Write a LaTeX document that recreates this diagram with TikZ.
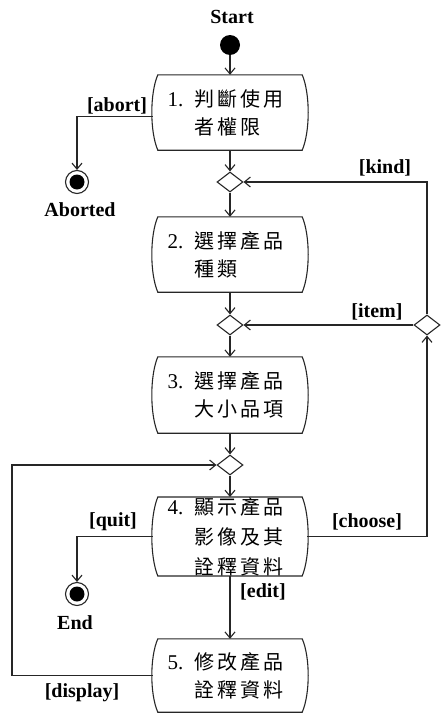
\documentclass[tikz,border=0pt]{standalone}
\usepackage{fontspec}
\setmainfont{Liberation Serif}
\newfontfamily\cjkfont[LetterSpace=15]{Noto Sans CJK TC}
\usetikzlibrary{arrows.meta,shapes.geometric,calc}

% step number in front of an activity text, and the matching indent
\newcommand\actnum[1]{\makebox[27pt][l]{\rmfamily\fontsize{21}{21}\selectfont #1}}
\newcommand\actind{\hspace*{27pt}}

\begin{document}
\begin{tikzpicture}[x=1pt,y=-1pt,
  ln/.style={line width=1.1pt, draw=black!85},
  flow/.style={ln, -{Straight Barb[length=6pt,width=10pt,line width=1.1pt]}},
  action/.style={rectangle, minimum width=154pt, minimum height=75pt,
    inner sep=0pt, text width=125pt, align=left,
    font=\cjkfont\fontsize{20}{28}\selectfont},
  merge/.style={diamond, ln, minimum width=26pt, minimum height=20pt,
    inner sep=0pt, aspect=1.3},
  initial/.style={circle, fill=black, minimum size=20pt, inner sep=0pt},
  final/.style={circle, ln, minimum size=23pt, inner sep=0pt,
    path picture={\fill[black] (path picture bounding box.center) circle (7.5pt);}},
  guard/.style={font=\bfseries\fontsize{20}{20}\selectfont, inner sep=0pt}]
\useasboundingbox (0,0) rectangle (440,715);

% states
\node[guard] (startlbl) at (232,17) {Start};
\node[initial] (start) at (230,45) {};
\node[action] (n1) at (230,112.5) {\actnum{1.}判斷使用\\\actind 者權限};
\node[merge] (d1) at (230,182) {};
\node[action] (n2) at (230,254.5) {\actnum{2.}選擇產品\\\actind 種類};
\node[merge] (d2) at (230,325) {};
\node[merge] (ditem) at (427,325) {};
\node[action, minimum height=76pt] (n3) at (230,395) {\actnum{3.}選擇產品\\\actind 大小品項};
\node[merge] (d3) at (230,465) {};
\node[action, minimum height=77pt,
  font=\cjkfont\fontsize{20}{30}\selectfont] (n4) at (230,536.5)
  {\actnum{4.}顯示產品\\\actind 影像及其\\\actind 詮釋資料};
\node[action, minimum height=73pt] (n5) at (230,675.5) {\actnum{5.}修改產品\\\actind 詮釋資料};

% activity outlines: straight top and bottom, sides bulging outwards
\foreach \a in {n1,n2,n3,n4,n5}{
  \draw[ln] ($(\a.north west)+(5,0)$) -- ($(\a.north east)+(-5,0)$)
    .. controls ($(\a.north east)!0.25!(\a.south east)+(3,0)$)
       and ($(\a.north east)!0.75!(\a.south east)+(3,0)$)
    .. ($(\a.south east)+(-5,0)$) -- ($(\a.south west)+(5,0)$)
    .. controls ($(\a.north west)!0.75!(\a.south west)+(-3,0)$)
       and ($(\a.north west)!0.25!(\a.south west)+(-3,0)$)
    .. cycle;
}

\node[final] (aborted) at (77,182) {};
\node[guard] (abortedlbl) at (80,210) {Aborted};
\node[final] (endstate) at (77,594) {};
\node[guard] (endlbl) at (75,623) {End};

\coordinate (displayturn) at (12,465);

% transitions
\draw[flow] (start) -- (n1);
\draw[flow] ([yshift=-4pt]n1.west) -| (aborted);
\draw[flow] (n1) -- (d1);
\draw[flow] (d1) -- (n2);
\draw[flow] (n2) -- (d2);
\draw[flow] (d2) -- (n3);
\draw[flow] (n3) -- (d3);
\draw[flow] (d3) -- (n4);
\draw[flow] (n4) -- (n5);
\draw[flow] (ditem) |- (d1);
\draw[flow] (ditem) -- (d2);
\draw[flow] (n4.east) -| (ditem);
\draw[flow] (n4.west) -| (endstate);
\draw[flow] (n5.west) -| (displayturn) -- (d3.west);

% guards
\node[guard] (gabort) at (117,106) {[abort]};
\node[guard] (gkind) at (385,168) {[kind]};
\node[guard] (gitem) at (377,312) {[item]};
\node[guard] (gchoose) at (367,522) {[choose]};
\node[guard] (gquit) at (113,522) {[quit]};
\node[guard] (gedit) at (263,592) {[edit]};
\node[guard] (gdisplay) at (82,693) {[display]};
\end{tikzpicture}
\end{document}
